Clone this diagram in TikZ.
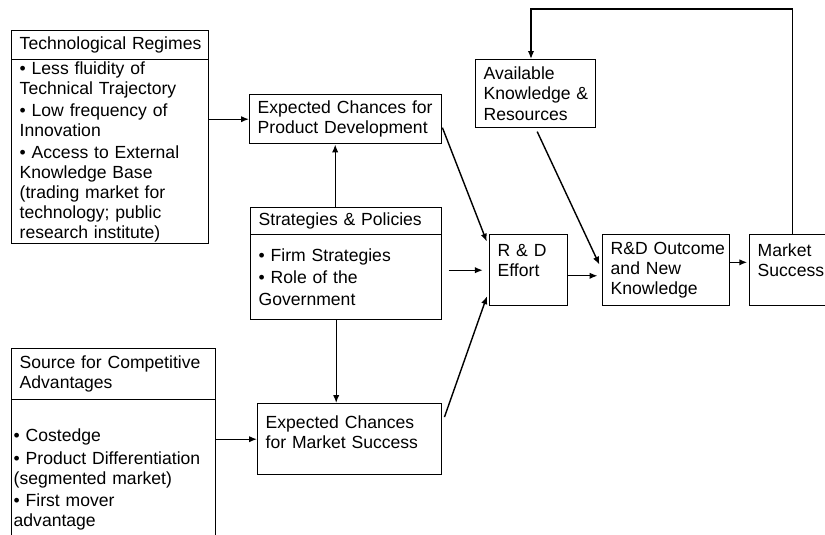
\documentclass[tikz,border=0pt]{standalone}
\usepackage{fontspec}
\setmainfont{Liberation Sans}
\usetikzlibrary{arrows.meta, calc}
\tikzset{
  every picture/.style={font=\fontsize{10}{11.4}\selectfont, line width=0.8pt},
  box/.style={draw, anchor=north west, align=left, inner xsep=1.6mm, inner ysep=1pt},
  arrow/.style={-{Latex[length=4.5pt, width=3.6pt]}},
  gap/.style={shorten >=3.5pt},
}

\begin{document}
\begin{tikzpicture}[x=0.2mm, y=-0.2mm]
  \clip (0,0) rectangle (825,534);
  % left column
  \node[box, minimum width=39.4mm, minimum height=5.8mm, text width=36.2mm] (tech) at (11,30) {\mbox{Technological Regimes}};
  \node[box, minimum width=39.4mm, minimum height=36.8mm, text width=36.2mm] (tech-list) at (11,59) {• Less fluidity of\\Technical Trajectory\\[1pt]• Low frequency of\\Innovation\\[1pt]• Access to External\\Knowledge Base\\(trading market for\\technology; public\\research institute)};
  \node[box, minimum width=40.8mm, minimum height=10.2mm, text width=37.6mm] (sca) at (11,348) {Source for Competitive\\Advantages};
  \node[box, minimum width=40.8mm, minimum height=32mm, inner xsep=0.4mm, text width=40mm] (sca-list) at (11,399) {• Costedge\\[1.5pt]\mbox{• Product Differentiation}\\(segmented market)\\[1.5pt]• First mover\\advantage};
  % middle column
  \node[box, minimum width=38.4mm, minimum height=9.8mm, text width=35.2mm] (ecpd) at (249,94) {\mbox{Expected Chances for}\\Product Development};
  \node[box, minimum width=38.2mm, minimum height=5.4mm, text width=35mm] (sp) at (250,207) {Strategies \& Policies};
  \node[box, minimum width=38.2mm, minimum height=17mm, text width=35mm] (sp-list) at (250,234) {• Firm Strategies\\[1pt]• Role of the\\[1pt]Government};
  \node[box, minimum width=36.8mm, minimum height=14.2mm, text width=33.6mm] (ecms) at (257,403) {Expected Chances\\for Market Success\\[-3pt]~};
  % right part
  \node[box, minimum width=24mm, minimum height=13.6mm, text width=20.8mm] (akr) at (475,59) {Available\\\mbox{Knowledge \&}\\Resources};
  \node[box, minimum width=15.6mm, minimum height=14.2mm, text width=12.4mm] (effort) at (489,234) {R \& D\\Effort\\~};
  \node[box, minimum width=25.4mm, minimum height=14.2mm, text width=22.2mm] (outcome) at (602,234) {\mbox{R\&D Outcome}\\and New\\Knowledge};
  \node[box, minimum width=20mm, minimum height=14.2mm, text width=16.8mm] (market) at (749,234) {Market\\Success\\~};
  % connectors
  \coordinate (sp-up) at ($(sp.north)+(-11,0)$);
  \coordinate (sp-dn) at ($(sp-list.south)+(-10,0)$);
  \coordinate (loop) at (531,9);
  \draw[arrow] (tech-list.east |- ecpd.west) -- (ecpd.west);
  \draw[arrow] (sp-up) -- (sp-up |- ecpd.south);
  \draw[arrow] (sp-dn) -- (sp-dn |- ecms.north);
  \draw[arrow] (sca-list.east |- ecms.west) -- (ecms.west);
  \draw[arrow, gap] (ecpd.-5) -- (effort.150);
  \draw[arrow, gap, shorten <=3.5pt] (sp-list.east |- effort.west) -- (effort.west);
  \draw[arrow, gap, shorten <=3.5pt] (ecms.10) -- (effort.207);
  \draw[arrow, gap, shorten <=2pt] (akr.south) -- (outcome.west);
  \draw[arrow, shorten >=2.5pt] (effort.-8) -- (effort.-8 -| outcome.west);
  \draw[arrow, shorten >=1pt] (outcome.7) -- (outcome.7 -| market.west);
  \draw[arrow] ($(market.north)+(-7,0)$) |- (loop) -- (loop |- akr.north);
\end{tikzpicture}
\end{document}
